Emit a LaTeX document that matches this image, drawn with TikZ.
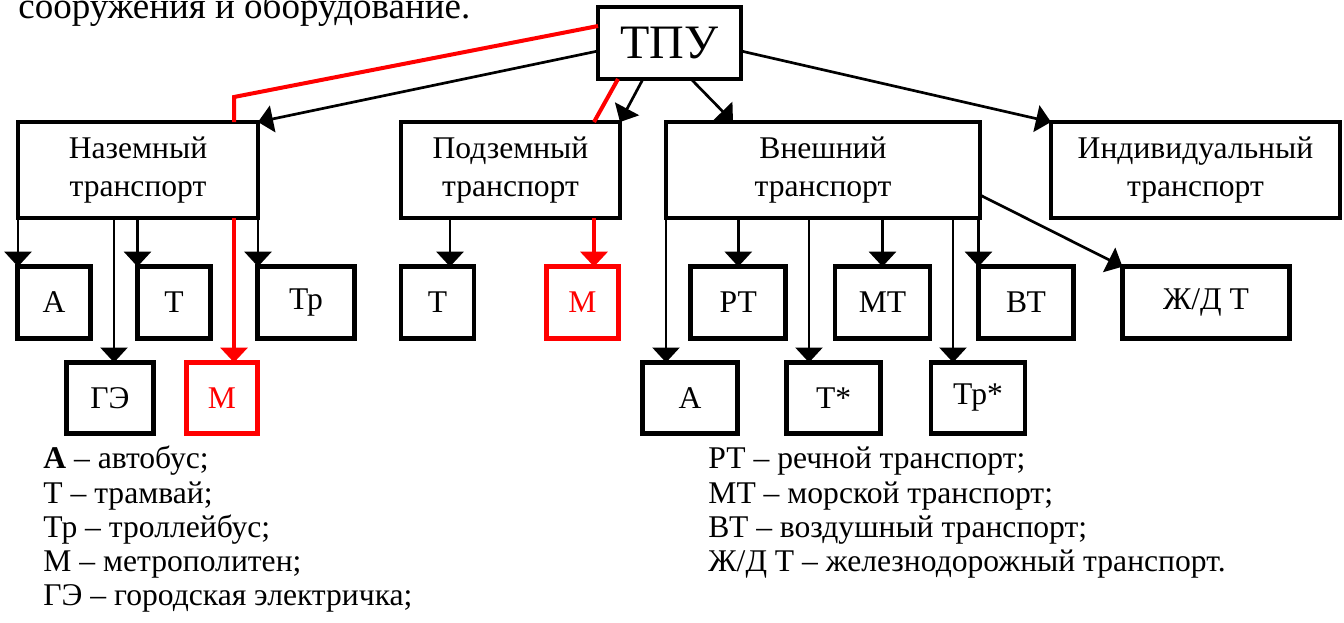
\documentclass[tikz,border=0pt]{standalone}
\usepackage{fontspec}
\setmainfont{Liberation Serif}
\usetikzlibrary{arrows.meta}
\begin{document}
\begin{tikzpicture}[x=0.5pt,y=-0.5pt,
  box/.style={draw=black, line width=2.4pt, fill=white, outer sep=0pt, inner sep=0pt,
              font=\fontsize{15.8}{19}\selectfont, align=center},
  rbox/.style={box, draw=red, text=red},
  arr/.style={draw=black, line width=1.35pt, -{Triangle[length=7.5pt,width=13.5pt]}},
  rarr/.style={draw=red, line width=2pt, -{Triangle[length=7.5pt,width=13.5pt]}},
  rline/.style={draw=red, line width=2pt},
  leg/.style={anchor=base west, inner sep=0pt, font=\fontsize{15.8}{17}\selectfont}
]
\useasboundingbox (0,0) rectangle (1344,622);

% top text
\node[anchor=base west, inner sep=0pt, font=\fontsize{18.5}{22}\selectfont] (toptext) at (18,18) {сооружения и оборудование.};

% main nodes
\node[box, minimum width=71.5pt, minimum height=36pt, font=\fontsize{24}{28}\selectfont] (tpu) at (669.5,43) {ТПУ};
\node[box, minimum width=120pt, minimum height=48pt] (naz) at (138,170) {Наземный\\транспорт};
\node[box, minimum width=109.5pt, minimum height=48pt] (pod) at (510.5,170) {Подземный\\транспорт};
\node[box, minimum width=157pt, minimum height=48pt] (vne) at (823,170) {Внешний\\транспорт};
\node[box, minimum width=144.5pt, minimum height=48pt] (ind) at (1195.5,170) {Индивидуальный\\транспорт};

% row 1
\node[box, minimum width=36.15pt, minimum height=35.85pt] (a1) at (54,302.5) {А};
\node[box, minimum width=36.5pt, minimum height=35.85pt] (t1) at (174,302.5) {Т};
\node[box, minimum width=48.5pt, minimum height=35.85pt] (tr1) at (306,302.5) {Тр};
\node[box, minimum width=36.5pt, minimum height=35.85pt] (t2) at (437.5,302.5) {Т};
\node[rbox, minimum width=36pt, minimum height=35.85pt] (m2) at (582.5,302.5) {М};
\node[box, minimum width=47.5pt, minimum height=35.85pt] (rt) at (738.3,302.5) {РТ};
\node[box, minimum width=47.5pt, minimum height=35.85pt] (mt) at (882.5,302.5) {МТ};
\node[box, minimum width=47.5pt, minimum height=35.85pt] (vt) at (1026,302.5) {ВТ};
\node[box, minimum width=83.5pt, minimum height=35.85pt] (zd) at (1206,302.5) {Ж/Д Т};

% row 2
\node[box, minimum width=43.5pt, minimum height=35.5pt] (ge) at (110,398) {ГЭ};
\node[rbox, minimum width=35.5pt, minimum height=35.5pt] (m1) at (222,398) {М};
\node[box, minimum width=47.5pt, minimum height=35.5pt] (a2) at (690,398) {А};
\node[box, minimum width=47pt, minimum height=35.5pt] (ts) at (833.7,398) {Т*};
\node[box, minimum width=47pt, minimum height=35.5pt] (trs) at (978,398) {Тр*};

% connectors from ТПУ
\coordinate (rbend) at (234,97);
\draw[rline] ([yshift=8.5pt]tpu.west) -- (rbend) -- (rbend |- naz.north);
\draw[arr] ([yshift=-4pt]tpu.west) -- (naz.north east);
\draw[rline] ([xshift=-25.75pt]tpu.south) -- ([xshift=41.75pt]pod.north);
\draw[arr] ([xshift=-13.25pt]tpu.south) -- (pod.north east);
\draw[arr] ([xshift=10.75pt]tpu.south) -- ([xshift=-45pt]vne.north);
\draw[arr] ([yshift=-4pt]tpu.east) -- (ind.north west);

% Наземный
\draw[arr] (naz.south west) -- (naz.south west |- a1.north);
\draw[arr] ([xshift=2pt]ge.north |- naz.south) -- ([xshift=2pt]ge.north);
\draw[arr] (t1.north west |- naz.south) -- (t1.north west);
\draw[rarr] ([xshift=6pt]m1.north |- naz.south) -- ([xshift=6pt]m1.north);
\draw[arr] (naz.south east) -- (naz.south east |- tr1.north);

% Подземный
\draw[arr] ([xshift=6.25pt]t2.north |- pod.south) -- ([xshift=6.25pt]t2.north);
\draw[rarr] ([xshift=5.75pt]m2.north |- pod.south) -- ([xshift=5.75pt]m2.north);

% Внешний
\draw[arr] (vne.south west) -- (vne.south west |- a2.north);
\draw[arr] (rt.north |- vne.south) -- (rt.north);
\draw[arr] ([xshift=-12.35pt]ts.north |- vne.south) -- ([xshift=-12.35pt]ts.north);
\draw[arr] (mt.north |- vne.south) -- (mt.north);
\draw[arr] ([xshift=-12.5pt]trs.north |- vne.south) -- ([xshift=-12.5pt]trs.north);
\draw[arr] (vt.north west |- vne.south) -- (vt.north west);
\draw[arr] ([yshift=-12.5pt]vne.east) -- (zd.north west);

% legend
\node[leg] (l1) at (43,468) {\textbf{А} – автобус;};
\node[leg] (l2) at (43,503) {Т – трамвай;};
\node[leg] (l3) at (43,537) {Тр – троллейбус;};
\node[leg] (l4) at (43,571) {М – метрополитен;};
\node[leg] (l5) at (43,605) {ГЭ – городская электричка;};
\node[leg] (r1) at (708,468) {РТ – речной транспорт;};
\node[leg] (r2) at (708,503) {МТ – морской транспорт;};
\node[leg] (r3) at (708,537) {ВТ – воздушный транспорт;};
\node[leg] (r4) at (708,571) {Ж/Д Т – железнодорожный транспорт.};
\end{tikzpicture}
\end{document}
